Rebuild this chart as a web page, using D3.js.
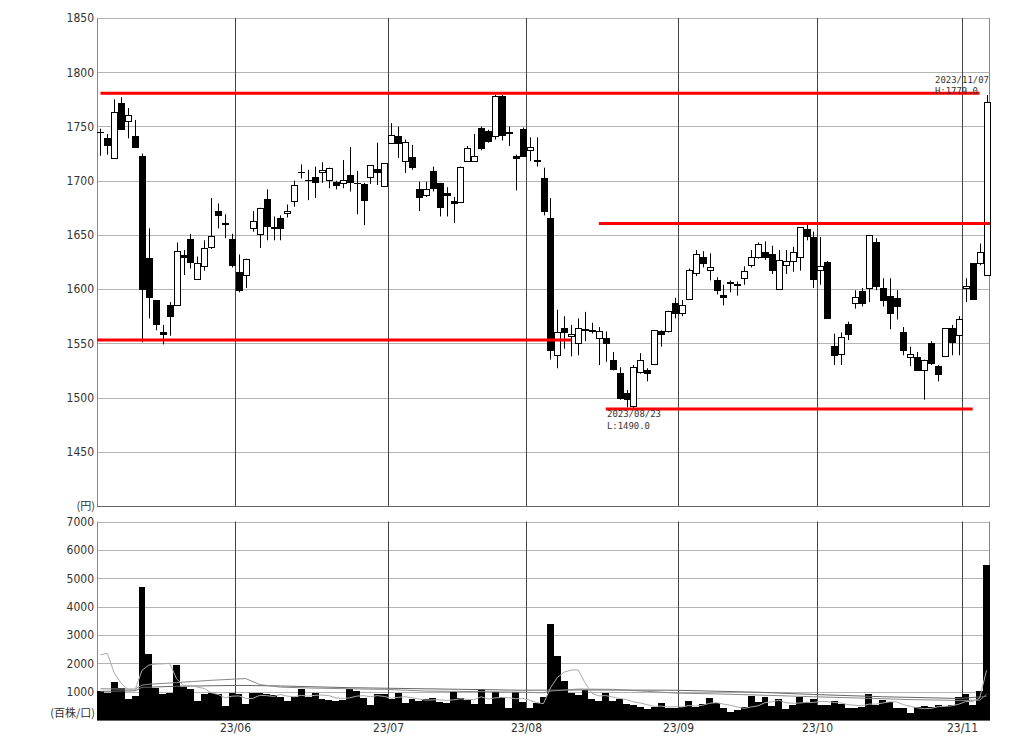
<!DOCTYPE html>
<html><head><meta charset="utf-8">
<script src="https://cdn.jsdelivr.net/npm/d3@7"></script>
<style>
body{margin:0;background:#fff;}
svg{display:block;}
</style></head><body>
<svg id="chart" width="1024" height="744"></svg>
<script>
// ---------- DATA ----------
const dates = [
 "05/01","05/02","05/08","05/09","05/10","05/11","05/12","05/15","05/16","05/17","05/18","05/19","05/22","05/23","05/24","05/25","05/26","05/29","05/30","05/31",
 "06/01","06/02","06/05","06/06","06/07","06/08","06/09","06/12","06/13","06/14","06/15","06/16","06/19","06/20","06/21","06/22","06/23","06/26","06/27","06/28","06/29","06/30",
 "07/03","07/04","07/05","07/06","07/07","07/10","07/11","07/12","07/13","07/14","07/18","07/19","07/20","07/21","07/24","07/25","07/26","07/27","07/28","07/31",
 "08/01","08/02","08/03","08/04","08/07","08/08","08/09","08/10","08/14","08/15","08/16","08/17","08/18","08/21","08/22","08/23","08/24","08/25","08/28","08/29","08/30","08/31",
 "09/01","09/04","09/05","09/06","09/07","09/08","09/11","09/12","09/13","09/14","09/15","09/19","09/20","09/21","09/22","09/25","09/26","09/27","09/28","09/29",
 "10/02","10/03","10/04","10/05","10/06","10/10","10/11","10/12","10/13","10/16","10/17","10/18","10/19","10/20","10/23","10/24","10/25","10/26","10/27","10/30","10/31",
 "11/01","11/02","11/06","11/07"];

const open = [1745,1739,1721,1772,1755,1741,1723,1629,1590,1560,1585,1585,1631,1646,1609,1621,1639,1672,1661,1646,
 1616,1613,1656,1651,1683,1657,1666,1670,1681,1708,1701,1703,1708,1701,1699,1698,1705,1698,1697,1703,1711,1695,
 1735,1741,1718,1722,1692,1687,1709,1698,1689,1681,1680,1718,1718,1749,1746,1741,1778,1745,1723,1748,
 1728,1719,1702,1666,1539,1564,1557,1550,1563,1562,1555,1555,1535,1523,1504,1492,1524,1525,1531,1561,1561,1587,
 1578,1591,1615,1630,1618,1608,1595,1607,1605,1610,1622,1630,1634,1632,1600,1622,1626,1630,1655,1648,
 1618,1625,1548,1540,1568,1587,1598,1601,1643,1601,1594,1592,1560,1537,1537,1525,1550,1529,1538,1564,1558,
 1601,1624,1624,1613];
const high = [1748,1743,1775,1777,1767,1756,1725,1656,1590,1567,1588,1643,1636,1651,1630,1645,1684,1679,1669,1651,
 1632,1628,1672,1675,1692,1667,1668,1678,1700,1715,1710,1713,1717,1712,1700,1719,1731,1709,1698,1714,1735,1716,
 1753,1750,1738,1733,1699,1699,1713,1698,1694,1685,1713,1732,1743,1750,1747,1779,1779,1750,1724,1749,
 1740,1740,1712,1684,1581,1575,1567,1573,1579,1569,1565,1561,1542,1528,1507,1530,1541,1527,1562,1562,1580,1592,
 1590,1619,1636,1635,1633,1611,1604,1608,1607,1621,1636,1643,1644,1640,1636,1636,1639,1657,1662,1653,
 1648,1626,1559,1560,1570,1599,1601,1650,1647,1610,1610,1599,1565,1547,1542,1535,1552,1530,1564,1567,1575,
 1610,1624,1642,1779];
const low = [1723,1724,1721,1747,1739,1731,1551,1573,1562,1549,1557,1585,1613,1619,1609,1617,1637,1656,1647,1620,
 1597,1601,1653,1638,1645,1645,1645,1666,1676,1702,1682,1684,1698,1693,1692,1693,1690,1669,1659,1697,1696,1695,
 1735,1721,1707,1710,1672,1685,1690,1667,1667,1661,1680,1718,1718,1728,1735,1738,1737,1732,1691,1722,
 1718,1713,1668,1535,1527,1545,1538,1539,1552,1559,1530,1533,1525,1498,1491,1490,1522,1515,1530,1547,1560,1573,
 1575,1590,1612,1620,1608,1595,1585,1597,1594,1604,1620,1628,1627,1614,1600,1614,1616,1617,1645,1601,
 1604,1573,1530,1530,1553,1582,1584,1588,1599,1584,1563,1572,1539,1529,1525,1498,1530,1515,1538,1539,1539,
 1588,1590,1622,1613];
const close = [1745,1733,1763,1748,1761,1731,1600,1593,1568,1559,1575,1635,1630,1625,1624,1638,1649,1668,1660,1622,
 1599,1628,1663,1675,1658,1656,1656,1672,1696,1708,1701,1699,1710,1712,1696,1701,1699,1698,1682,1714,1708,1716,
 1742,1735,1736,1713,1685,1692,1693,1676,1687,1679,1713,1730,1723,1730,1737,1778,1742,1744,1721,1723,
 1731,1718,1672,1544,1560,1560,1559,1564,1562,1561,1561,1550,1526,1500,1499,1528,1535,1523,1562,1559,1580,1578,
 1585,1618,1632,1624,1620,1599,1593,1606,1604,1617,1630,1642,1630,1618,1627,1626,1634,1657,1649,1609,
 1621,1573,1539,1556,1559,1593,1587,1650,1603,1590,1578,1584,1544,1540,1525,1535,1532,1522,1564,1551,1572,
 1603,1591,1634,1773];
// volume (百株)
const volume = [1030,940,1350,1120,730,850,4680,2320,1140,900,960,1930,1180,1080,670,900,960,900,500,960,
 920,550,960,940,900,880,800,680,820,1080,820,960,725,700,680,700,1090,1020,780,530,900,900,
 750,935,610,725,680,740,780,640,585,970,780,700,550,1110,550,970,820,440,970,620,
 440,585,820,3390,2260,1380,935,865,1050,740,670,935,680,750,560,525,470,400,445,585,420,420,
 445,680,470,560,780,585,410,280,350,445,840,620,820,490,750,385,525,820,640,740,
 525,515,670,575,410,420,445,910,540,700,630,410,410,235,445,490,445,540,490,540,795,
 910,515,1030,5480];
// volume moving-average lines: [date, value]
const maShort = [["05/01",2300],["05/02",2350],["05/08",1650],["05/09",1300],["05/10",1060],["05/11",1060],["05/12",1750],["05/15",1940],["05/16",1970],["05/17",1980],["05/18",2000],["05/19",1450],["05/22",1220],["05/23",1220],["05/24",1160],["05/25",1110],["05/26",960],["05/29",900],["05/30",780],["05/31",840],
 ["06/01",850],["06/02",760],["06/05",760],["06/06",870],["06/07",860],["06/08",830],["06/09",900],["06/12",840],["06/13",820],["06/14",870],["06/15",840],["06/16",870],["06/19",880],["06/20",860],["06/21",780],["06/22",760],["06/23",780],["06/26",840],["06/27",860],["06/28",820],["06/29",860],["06/30",830],
 ["07/03",770],["07/04",800],["07/05",820],["07/06",785],["07/07",740],["07/10",700],["07/11",710],["07/12",710],["07/13",690],["07/14",710],["07/18",750],["07/19",730],["07/20",720],["07/21",820],["07/24",740],["07/25",780],["07/26",800],["07/27",780],["07/28",750],["07/31",760],
 ["08/01",700],["08/02",610],["08/03",580],["08/04",1130],["08/07",1500],["08/08",1690],["08/09",1760],["08/10",1770],["08/14",1310],["08/15",940],["08/16",850],["08/17",860],["08/18",810],["08/21",760],["08/22",720],["08/23",640],["08/24",600],["08/25",540],["08/28",480],["08/29",490],["08/30",460],["08/31",470],
 ["09/01",460],["09/04",510],["09/05",490],["09/06",520],["09/07",590],["09/08",610],["09/11",560],["09/12",520],["09/13",460],["09/14",410],["09/15",460],["09/19",500],["09/20",610],["09/21",640],["09/22",700],["09/25",610],["09/26",590],["09/27",600],["09/28",620],["09/29",620],
 ["10/02",650],["10/03",650],["10/04",620],["10/05",600],["10/06",540],["10/10",520],["10/11",500],["10/12",560],["10/13",560],["10/16",600],["10/17",640],["10/18",640],["10/19",540],["10/20",480],["10/23",430],["10/24",400],["10/25",410],["10/26",470],["10/27",480],["10/30",500],["10/31",560],
 ["11/01",650],["11/02",650],["11/06",770],["11/07",1750]];
const maMid = [["05/01",1100],["05/11",1090],["05/12",1230],["05/15",1260],["05/19",1320],["05/26",1400],["06/01",1450],["06/02",1460],["06/06",1250],["06/09",1160],["06/15",1130],["06/23",1100],["06/30",1080],["07/10",1020],["07/21",1000],["07/31",980],["08/03",960],["08/04",1020],["08/10",1090],["08/18",1080],["08/25",1010],["08/31",950],["09/08",920],["09/19",880],["09/29",820],["10/10",780],["10/20",720],["10/31",690],["11/06",700],["11/07",900]];
const maSlow = [["05/01",1010],["05/11",1030],["05/12",1150],["05/19",1190],["06/01",1220],["06/09",1200],["06/23",1140],["07/10",1100],["07/31",1050],["08/10",1060],["08/31",1050],["09/19",980],["09/29",900],["10/16",820],["10/31",760],["11/07",830]];

const priceTicks = [1450,1500,1550,1600,1650,1700,1750,1800,1850];
const volTicks = [1000,2000,3000,4000,5000,6000,7000];
const monthStarts = ["06/01","07/03","08/01","09/01","10/02","11/01"];
const monthLabels = ["23/06","23/07","23/08","23/09","23/10","23/11"];
// red horizontal levels
const levelPrice = [1780.5, 1553, 1660.5, 1489.5];
const levelFrom  = ["05/01", null, "08/16", "08/17"];
const levelTo    = ["11/06", "08/09", null, "11/02"];
// annotations
const noteHigh = {date:"2023/11/07", text:"H:1779.0", price:1779};
const noteLow  = {date:"2023/08/23", text:"L:1490.0", price:1490};

// ---------- CHART ----------
const svg = d3.select("#chart");
const L = 97, R = 990;
const pTop = 18, pBot = 506, vTop = 521.5, vBot = 720;
const x = d3.scaleBand().domain(dates).range([L, R]).paddingInner(0).paddingOuter(0);
const bw = x.bandwidth();
const xc = d => Math.round(x(d) + bw/2);
const yP = d3.scaleLinear().domain([1400,1850]).range([pBot, pTop]);
const yV = d3.scaleLinear().domain([0,7000]).range([vBot, vTop]);
const font = '"Liberation Sans Narrow","DejaVu Sans Condensed","Liberation Sans",Arial,sans-serif';
const jfont = '"Noto Sans CJK JP","Noto Sans",sans-serif';

const g = svg.append("g");
// price gridlines
g.append("g").selectAll("line").data(priceTicks).join("line")
 .attr("x1", L).attr("x2", R).attr("y1", d=>Math.round(yP(d))+0.5).attr("y2", d=>Math.round(yP(d))+0.5)
 .attr("stroke", "#b4b4b4").attr("stroke-width",1);
// vol gridlines
g.append("g").selectAll("line").data(volTicks).join("line")
 .attr("x1", L).attr("x2", R).attr("y1", d=>Math.round(yV(d))+0.5).attr("y2", d=>Math.round(yV(d))+0.5)
 .attr("stroke", "#b4b4b4").attr("stroke-width",1);
// month lines
const mx = d => Math.round(x(d)) + 0.5;
g.append("g").selectAll("line").data(monthStarts).join("line")
 .attr("x1", mx).attr("x2", mx).attr("y1", pTop).attr("y2", pBot)
 .attr("stroke", "#444").attr("stroke-width",1);
g.append("g").selectAll("line").data(monthStarts).join("line")
 .attr("x1", mx).attr("x2", mx).attr("y1", vTop).attr("y2", vBot)
 .attr("stroke", "#444").attr("stroke-width",1);
// frames
[[pTop,pBot],[vTop,vBot]].forEach(([t,b])=>{
  g.append("line").attr("x1",L+0.5).attr("x2",L+0.5).attr("y1",t).attr("y2",b).attr("stroke","#888");
  g.append("line").attr("x1",R-0.5).attr("x2",R-0.5).attr("y1",t).attr("y2",b).attr("stroke","#888");
  g.append("line").attr("x1",L).attr("x2",R).attr("y1",Math.round(b)+0.5).attr("y2",Math.round(b)+0.5).attr("stroke","#666");
});

// axis labels (price)
const yAxisP = d3.axisLeft(yP).tickValues(priceTicks).tickFormat(d3.format("d")).tickSize(0).tickPadding(2);
const ap = svg.append("g").attr("transform",`translate(${L-1},0)`).call(yAxisP);
ap.select(".domain").remove();
ap.selectAll("text").attr("font-family", font).attr("font-size", 12).attr("fill","#333");
const yAxisV = d3.axisLeft(yV).tickValues(volTicks).tickFormat(d3.format("d")).tickSize(0).tickPadding(2);
const av = svg.append("g").attr("transform",`translate(${L-1},0)`).call(yAxisV);
av.select(".domain").remove();
av.selectAll("text").attr("font-family", font).attr("font-size", 12).attr("fill","#333");
svg.append("text").attr("x", L-2).attr("y", pBot).attr("dy","0.35em").attr("text-anchor","end")
 .attr("font-family", jfont).attr("font-size",11).attr("fill","#333").text("(円)");
svg.append("text").attr("x", L-2).attr("y", vBot-7).attr("dy","0.35em").attr("text-anchor","end")
 .attr("font-family", jfont).attr("font-size",11).attr("fill","#333").text("(百株/口)");
// x axis month labels
const xAxis = d3.axisBottom(x).tickValues(monthStarts).tickSize(0).tickPadding(3)
  .tickFormat((d,i)=>monthLabels[i]);
const ax = svg.append("g").attr("transform",`translate(0,${vBot})`).call(xAxis);
ax.select(".domain").remove();
ax.selectAll(".tick").attr("transform", d=>`translate(${mx(d)},0)`);
ax.selectAll("text").attr("font-family", font).attr("font-size", 12).attr("fill","#333");

// volume bars
const bars = dates.map((d,i)=>({d, v:volume[i]}));
svg.append("g").selectAll("rect").data(bars).join("rect")
 .attr("x", b=>x(b.d)).attr("width", bw)
 .attr("y", b=>yV(b.v)).attr("height", b=>yV(0)-yV(b.v))
 .attr("fill","#000").attr("shape-rendering","crispEdges");
// MA lines
const ln = d3.line().x(p=>x(p[0])+bw/2).y(p=>yV(p[1]));
svg.append("path").attr("d", ln(maSlow)).attr("fill","none").attr("stroke","#666").attr("stroke-width",1);
svg.append("path").attr("d", ln(maMid)).attr("fill","none").attr("stroke","#888").attr("stroke-width",1);
svg.append("path").attr("d", ln(maShort)).attr("fill","none").attr("stroke","#aaa").attr("stroke-width",1);

// candles
const candles = dates.map((d,i)=>({d, o:open[i], h:high[i], l:low[i], c:close[i]}));
const cg = svg.append("g");
cg.selectAll("line.wick").data(candles).join("line").attr("class","wick")
 .attr("x1", c=>xc(c.d)+0.5).attr("x2", c=>xc(c.d)+0.5)
 .attr("y1", c=>yP(c.h)).attr("y2", c=>yP(c.l))
 .attr("stroke","#000").attr("stroke-width",1);
cg.selectAll("rect.body").data(candles.filter(c=>Math.abs(yP(c.o)-yP(c.c))>=1)).join("rect").attr("class","body")
 .attr("x", c=>xc(c.d)-2.5).attr("width", 6)
 .attr("y", c=>Math.round(yP(Math.max(c.o,c.c)))+0.5)
 .attr("height", c=>Math.max(1, Math.round(yP(Math.min(c.o,c.c))) - Math.round(yP(Math.max(c.o,c.c)))))
 .attr("fill", c=>c.c>=c.o ? "#fff" : "#000").attr("stroke","#000").attr("stroke-width",1);
cg.selectAll("line.doji").data(candles.filter(c=>Math.abs(yP(c.o)-yP(c.c))<1)).join("line").attr("class","doji")
 .attr("x1", c=>xc(c.d)-3).attr("x2", c=>xc(c.d)+4)
 .attr("y1", c=>Math.round(yP(c.c))+0.5).attr("y2", c=>Math.round(yP(c.c))+0.5)
 .attr("stroke","#000").attr("stroke-width",1);

// red level lines
const lv = levelPrice.map((p,i)=>({p, f:levelFrom[i], t:levelTo[i]}));
svg.append("g").selectAll("line").data(lv).join("line")
 .attr("x1", d=>d.f ? x(d.f)+bw/2 : L).attr("x2", d=>d.t ? x(d.t)+bw/2 : R)
 .attr("y1", d=>yP(d.p)).attr("y2", d=>yP(d.p))
 .attr("stroke","#ff0000").attr("stroke-width",3);

// annotations
const afont = '"DejaVu Sans Mono","Liberation Mono",monospace';
function note(xLeft, yBase, n){
  const t = svg.append("g").attr("font-family", afont).attr("font-size", 9.5).attr("fill","#333");
  t.append("text").attr("x", xLeft).attr("y", yBase).attr("textLength", 54).attr("lengthAdjust","spacingAndGlyphs").text(n.date);
  t.append("text").attr("x", xLeft).attr("y", yBase+11.5).attr("textLength", 43).attr("lengthAdjust","spacingAndGlyphs").text(n.text);
}
note(935, yP(noteHigh.price)-12, noteHigh);
note(607, yP(noteLow.price)+9, noteLow);
</script>
</body></html>
